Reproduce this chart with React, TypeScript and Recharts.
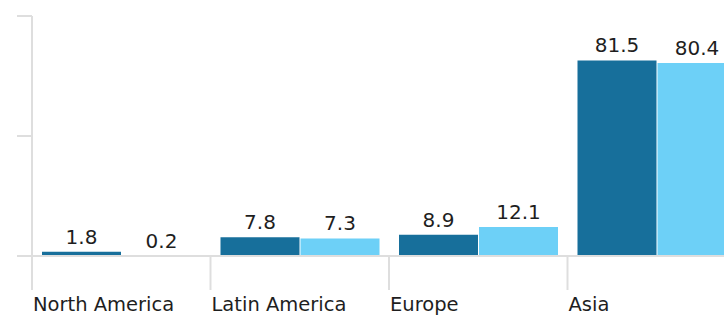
import { BarChart, Bar, XAxis, YAxis, LabelList } from 'recharts';

const regions = ['North America', 'Latin America', 'Europe', 'Asia'];
const seriesA = [1.8, 7.8, 8.9, 81.5];
const seriesB = [0.2, 7.3, 12.1, 80.4];
const yTicks = [0, 50, 100];

const data = regions.map((region, i) => ({ region, a: seriesA[i], b: seriesB[i] }));

const CHART_W = 746;
const CHART_H = 323;
const AXIS_W = 32;
const HALF_BAND = (CHART_W - AXIS_W) / regions.length / 2;
const FONT = '"DejaVu Sans", Verdana, sans-serif';
const GRID = '#dedede';

function RegionTick(props: any) {
  const { x, y, payload } = props;
  const left = x - HALF_BAND;
  return (
    <g>
      <line x1={left} x2={left} y1={y} y2={y + 34} stroke={GRID} strokeWidth={2} />
      <text x={left + 1} y={y + 55} fill="#1e1e1e" fontSize={19.5} fontFamily={FONT} textAnchor="start">
        {payload.value}
      </text>
    </g>
  );
}

export default function App() {
  return (
    <div style={{ position: 'absolute', left: 0, top: 0, width: 724, height: CHART_H, overflow: 'hidden', background: '#fff' }}>
      <BarChart
        width={CHART_W}
        height={CHART_H}
        data={data}
        margin={{ top: 16, right: 0, left: 0, bottom: 0 }}
        barGap={1}
        barSize={79}
      >
        <YAxis
          width={AXIS_W}
          domain={[0, 100]}
          ticks={yTicks}
          tickSize={15}
          tick={() => <g />}
          tickLine={{ stroke: GRID, strokeWidth: 2 }}
          axisLine={{ stroke: GRID, strokeWidth: 2 }}
        />
        <XAxis
          dataKey="region"
          height={67}
          tickLine={false}
          tickSize={0}
          tickMargin={0}
          axisLine={{ stroke: GRID, strokeWidth: 2 }}
          tick={<RegionTick />}
          interval={0}
        />
        <Bar dataKey="a" fill="#176f9b" isAnimationActive={false}>
          <LabelList dataKey="a" position="top" offset={8} fill="#1e1e1e" fontSize={20} fontFamily={FONT} />
        </Bar>
        <Bar dataKey="b" fill="#6dd0f7" isAnimationActive={false}>
          <LabelList dataKey="b" position="top" offset={8} fill="#1e1e1e" fontSize={20} fontFamily={FONT} />
        </Bar>
      </BarChart>
    </div>
  );
}
